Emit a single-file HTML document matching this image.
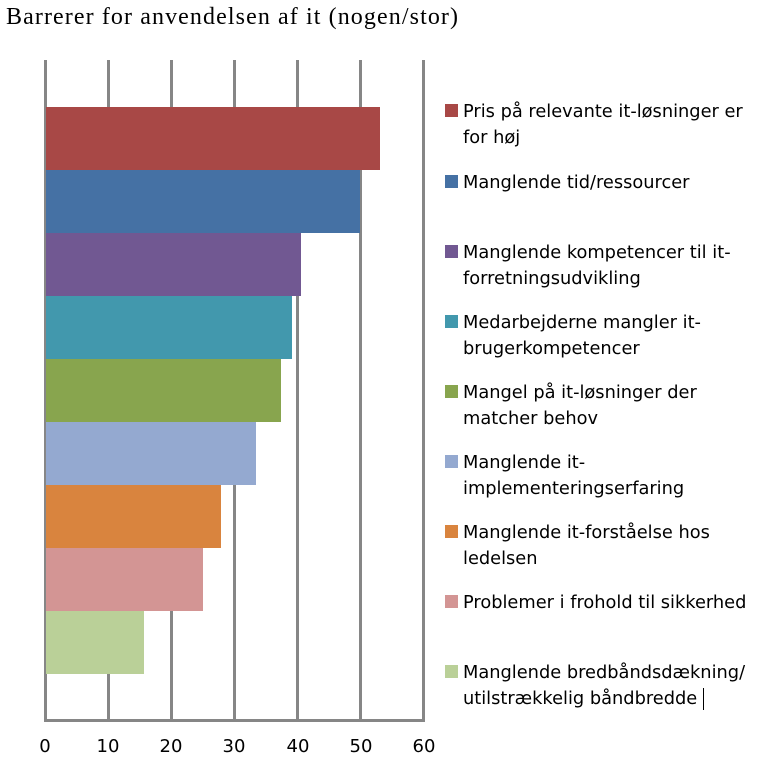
<!DOCTYPE html>
<html><head><meta charset="utf-8"><style>
body{margin:0;background:#fff;width:769px;height:763px;overflow:hidden;position:relative;font-family:"DejaVu Sans","Liberation Sans",sans-serif}
.t{position:absolute;left:6px;top:4px;font-family:"Liberation Serif","DejaVu Serif",serif;font-size:24px;letter-spacing:1.1px;color:#000}
.g{position:absolute;top:60px;width:3px;height:661px;background:#868686}
.b{position:absolute;left:46px;height:63px}
.l{position:absolute;left:463px;font-size:17.8px;line-height:26px;color:#000}
.s{position:absolute;left:445px;width:13px;height:13px}
.x{position:absolute;top:736px;font-size:18px;width:40px;text-align:center;font-family:"DejaVu Sans",sans-serif}
</style></head><body>
<div class="t">Barrerer for anvendelsen af it (nogen/stor)</div>
<div class="g" style="left:44px"></div>
<div class="g" style="left:107px"></div>
<div class="g" style="left:170px"></div>
<div class="g" style="left:233px"></div>
<div class="g" style="left:296px"></div>
<div class="g" style="left:359px"></div>
<div class="g" style="left:422px"></div>
<div style="position:absolute;left:44px;top:719px;width:381px;height:3px;background:#868686"></div>
<div class="b" style="top:107px;width:334px;background:#a84846"></div>
<div class="b" style="top:170px;width:314px;background:#4571a4"></div>
<div class="b" style="top:233px;width:255px;background:#715892"></div>
<div class="b" style="top:296px;width:246px;background:#4298ad"></div>
<div class="b" style="top:359px;width:235px;background:#88a54e"></div>
<div class="b" style="top:422px;width:210px;background:#94a9d0"></div>
<div class="b" style="top:485px;width:175px;background:#d9843e"></div>
<div class="b" style="top:548px;width:157px;background:#d39594"></div>
<div class="b" style="top:611px;width:98px;background:#bad098"></div>
<div class="s" style="top:104px;background:#a84846"></div><div class="l" style="top:99px">Pris på relevante it-løsninger er<br>for høj</div>
<div class="s" style="top:175px;background:#4571a4"></div><div class="l" style="top:170px">Manglende tid/ressourcer</div>
<div class="s" style="top:245px;background:#715892"></div><div class="l" style="top:240px">Manglende kompetencer til it-<br>forretningsudvikling</div>
<div class="s" style="top:315px;background:#4298ad"></div><div class="l" style="top:310px">Medarbejderne mangler it-<br>brugerkompetencer</div>
<div class="s" style="top:385px;background:#88a54e"></div><div class="l" style="top:380px">Mangel på it-løsninger der<br>matcher behov</div>
<div class="s" style="top:455px;background:#94a9d0"></div><div class="l" style="top:450px">Manglende it-<br>implementeringserfaring</div>
<div class="s" style="top:525px;background:#d9843e"></div><div class="l" style="top:520px">Manglende it-forståelse hos<br>ledelsen</div>
<div class="s" style="top:595px;background:#d39594"></div><div class="l" style="top:590px">Problemer i frohold til sikkerhed</div>
<div class="s" style="top:665px;background:#bad098"></div><div class="l" style="top:660px">Manglende bredbåndsdækning/<br>utilstrækkelig båndbredde</div>
<div style="position:absolute;left:703px;top:688px;width:1px;height:22px;background:#000"></div>
<div class="x" style="left:25px">0</div>
<div class="x" style="left:88px">10</div>
<div class="x" style="left:151px">20</div>
<div class="x" style="left:214px">30</div>
<div class="x" style="left:278px">40</div>
<div class="x" style="left:341px">50</div>
<div class="x" style="left:404px">60</div>
</body></html>
